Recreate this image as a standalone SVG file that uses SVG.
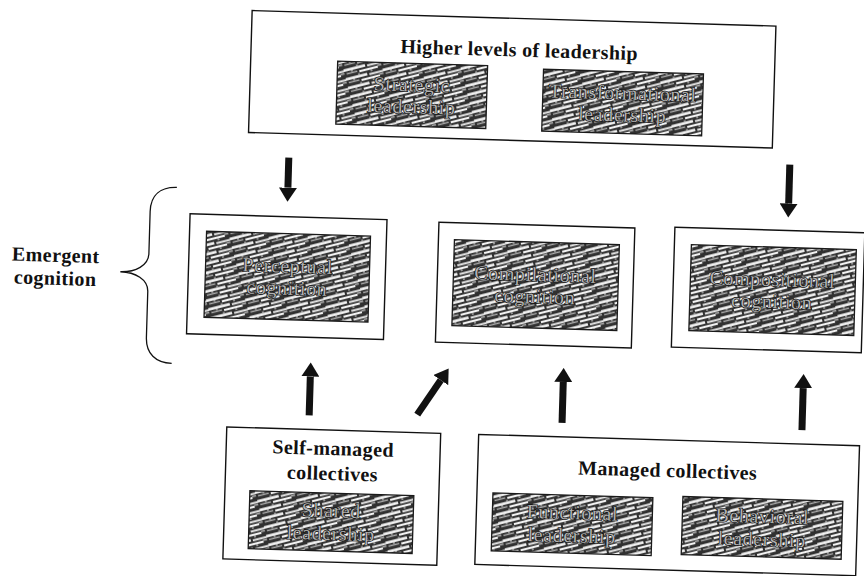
<svg xmlns="http://www.w3.org/2000/svg" width="864" height="576" viewBox="0 0 864 576">
  <style>
    .frame { fill: #ffffff; stroke: #111111; stroke-width: 1.4; }
    .hatch { fill: url(#streaks); stroke: #1a1a1a; stroke-width: 1.3; }
    .title { font-family: "Liberation Serif", "DejaVu Serif", serif; font-weight: bold; font-size: 20px; fill: #111111; text-anchor: middle; letter-spacing: 0.4px; }
    .inner { font-family: "Liberation Serif", "DejaVu Serif", serif; font-size: 20px; fill: #b0b0b0; stroke: #101010; stroke-width: 1.3; paint-order: stroke; text-anchor: middle; letter-spacing: 0.6px; }
    .arrow { stroke: #111111; stroke-width: 7; fill: none; marker-end: url(#head); }
    .brace { fill: none; stroke: #111111; stroke-width: 1.3; }
  </style>
  <defs>
    <!-- irregular streaky fill used behind the construct labels -->
    <pattern id="streaks" patternUnits="userSpaceOnUse" width="38" height="9" patternTransform="rotate(-16)">
      <rect width="38" height="9" fill="#303030"/>
      <line x1="0" y1="1.6" x2="22" y2="1.6" stroke="#f6f6f6" stroke-width="2.6"/>
      <line x1="24" y1="2.3" x2="38" y2="2.3" stroke="#eaeaea" stroke-width="2"/>
      <line x1="2" y1="5.4" x2="13" y2="5.4" stroke="#a8a8a8" stroke-width="1.5"/>
      <line x1="15" y1="6" x2="34" y2="6" stroke="#f2f2f2" stroke-width="2.2"/>
      <line x1="34" y1="4.8" x2="38" y2="4.8" stroke="#c4c4c4" stroke-width="1.2"/>
      <circle cx="8" cy="3.7" r="0.8" fill="#d6d6d6"/>
      <circle cx="27" cy="8.1" r="0.9" fill="#cacaca"/>
      <circle cx="14" cy="8.2" r="0.7" fill="#e4e4e4"/>
    </pattern>
    <marker id="head" markerUnits="userSpaceOnUse" viewBox="0 0 14 18" refX="0" refY="9" markerWidth="14" markerHeight="18" orient="auto">
      <path d="M0,0 L14,9 L0,18 Z" fill="#111111"/>
    </marker>
  </defs>

  <rect width="864" height="576" fill="#ffffff"/>

  <g transform="rotate(1.7 432 288)">
    <!-- Emergent cognition label and brace -->
    <g id="emergent-cognition">
      <text class="title" x="55" y="273">Emergent</text>
      <text class="title" x="55" y="296">cognition</text>
      <path class="brace" d="M174,195 C158,195 148,203 148,220 L148,262 C148,274 135,281 120,281 C135,281 148,288 148,300 L148,346 C148,362 158,371 174,371"/>
    </g>

    <!-- top: higher levels of leadership -->
    <g id="higher-levels">
      <rect class="frame" x="244" y="16" width="524" height="122"/>
      <text class="title" x="512" y="54">Higher levels of leadership</text>
    </g>
    <g id="strategic">
      <rect class="hatch" x="331" y="64" width="150" height="63"/>
      <text class="inner" x="406" y="92">Strategic</text>
      <text class="inner" x="406" y="114">leadership</text>
    </g>
    <g id="transformational">
      <rect class="hatch" x="537" y="66" width="160" height="62"/>
      <text class="inner" x="617" y="94">Transformational</text>
      <text class="inner" x="617" y="116">leadership</text>
    </g>

    <!-- middle: emergent cognition types -->
    <g id="perceptual">
      <rect class="frame" x="188" y="221" width="197" height="120"/>
      <rect class="hatch" x="205" y="238" width="164" height="86"/>
      <text class="inner" x="287" y="277">Perceptual</text>
      <text class="inner" x="287" y="299">cognition</text>
    </g>
    <g id="compilational">
      <rect class="frame" x="437" y="222" width="196" height="120"/>
      <rect class="hatch" x="453" y="239" width="165" height="86"/>
      <text class="inner" x="535" y="278">Compilational</text>
      <text class="inner" x="535" y="300">cognition</text>
    </g>
    <g id="compositional">
      <rect class="frame" x="673" y="220" width="190" height="120"/>
      <rect class="hatch" x="690" y="237" width="165" height="86"/>
      <text class="inner" x="772" y="276">Compositional</text>
      <text class="inner" x="772" y="298">cognition</text>
    </g>

    <!-- bottom: collectives -->
    <g id="self-managed">
      <rect class="frame" x="231" y="433" width="214" height="132"/>
      <text class="title" x="338" y="458">Self-managed</text>
      <text class="title" x="338" y="483">collectives</text>
      <rect class="hatch" x="256" y="496" width="164" height="58"/>
      <text class="inner" x="338" y="520">Shared</text>
      <text class="inner" x="338" y="543">leadership</text>
    </g>
    <g id="managed">
      <rect class="frame" x="483" y="433" width="381" height="130"/>
      <text class="title" x="673" y="470">Managed collectives</text>
    </g>
    <g id="functional">
      <rect class="hatch" x="499" y="491" width="160" height="58"/>
      <text class="inner" x="579" y="515">Functional</text>
      <text class="inner" x="579" y="538">leadership</text>
    </g>
    <g id="behavioral">
      <rect class="hatch" x="689" y="489" width="160" height="58"/>
      <text class="inner" x="769" y="513">Behavioral</text>
      <text class="inner" x="769" y="536">leadership</text>
    </g>

    <!-- connectors -->
    <g id="connectors">
      <line class="arrow" x1="285" y1="162" x2="285" y2="192"/>
      <line class="arrow" x1="786" y1="154" x2="786" y2="193"/>
      <line class="arrow" x1="313" y1="419" x2="313" y2="380"/>
      <line class="arrow" x1="421" y1="415" x2="443.5" y2="379.8"/>
      <line class="arrow" x1="566" y1="419" x2="566" y2="378"/>
      <line class="arrow" x1="806" y1="419" x2="806" y2="377"/>
    </g>
  </g>
</svg>
